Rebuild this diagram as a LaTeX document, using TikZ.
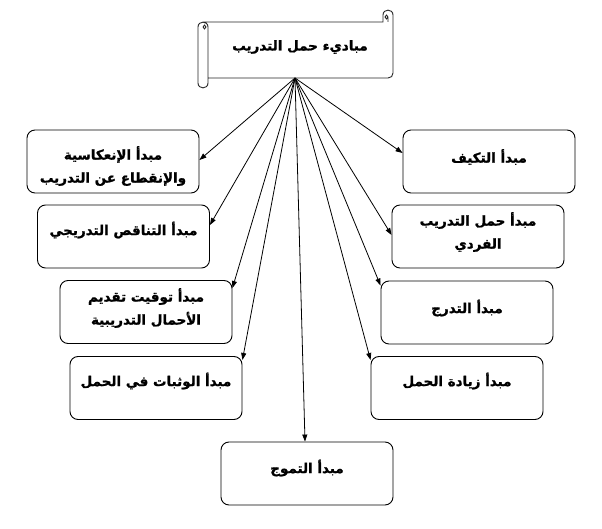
\documentclass[tikz,border=0pt]{standalone}
\usepackage{fontspec}
\newfontfamily\arabicfont[Script=Arabic, FakeBold=1.2]{DejaVu Sans Bold}
\TeXXeTstate=1
\usetikzlibrary{arrows.meta,calc}
\tikzset{
  box/.style={draw=black, rounded corners=8pt, minimum width=172pt, minimum height=63pt, line width=0.9pt, inner sep=0pt},
  txt/.style={font=\arabicfont\fontsize{13.5}{23}\selectfont, align=center, inner sep=0pt},
  arr/.style={draw=black, line width=0.8pt, -{Triangle[length=7pt,width=5pt]}},
  scrollline/.style={draw=black!85, line width=0.9pt}
}
\begin{document}
\begin{tikzpicture}[x=1pt,y=-1pt]
\useasboundingbox (0,0) rectangle (602,529);
% scroll
\draw[scrollline, fill=white] (203,22) -- (383,22) -- (383,15) .. controls (383,8.5) and (393,8.5) .. (393,15)
  -- (393,73) .. controls (393,76) and (391,78) .. (388,78) -- (208,78) -- (208,83)
  .. controls (208,89.5) and (198,89.5) .. (198,83) -- (198,27) .. controls (198,20.5) and (208,20.5) .. (208,27) -- (208,78);
\draw[scrollline] (388,22) -- (388,17) .. controls (388,14.5) and (385,14.5) .. (385,17) .. controls (385,19.5) and (388,19.5) .. (388,17);
\draw[scrollline] (203,27) .. controls (203,24.5) and (206,24.5) .. (206,27) .. controls (206,29.5) and (203,29.5) .. (203,27);
\node[txt] (title) at (300,47) {\beginR مباديء حمل التدريب\endR};
\coordinate (src) at (295,78);
% boxes
\node[box] (b1) at (113,161.5) {};
\node[box] (b2) at (489,161.5) {};
\node[box] (b3) at (123.5,236.5) {};
\node[box] (b4) at (478,236.5) {};
\node[box] (b5) at (146,312) {};
\node[box] (b6) at (467,312.5) {};
\node[box] (b7) at (156,388) {};
\node[box] (b8) at (457,388) {};
\node[box] (b9) at (307,473.5) {};
% texts
\node[txt] (t1) at (113,166) {\beginR مبدأ الإنعكاسية\endR\\\beginR والإنقطاع عن التدريب\endR};
\node[txt] (t2) at (489,157) {\beginR مبدأ التكيف\endR};
\node[txt] (t3) at (123.5,230) {\beginR مبدأ التناقص التدريجي\endR};
\node[txt] (t4) at (478,232) {\beginR مبدأ حمل التدريب\endR\\\beginR الفردي\endR};
\node[txt] (t5) at (146,308) {\beginR مبدأ توقيت تقديم\endR\\\beginR الأحمال التدريبية\endR};
\node[txt] (t6) at (467,308) {\beginR مبدأ التدرج\endR};
\node[txt] (t7) at (156,381) {\beginR مبدأ الوثبات في الحمل\endR};
\node[txt] (t8) at (457,381) {\beginR مبدأ زيادة الحمل\endR};
\node[txt] (t9) at (307,468) {\beginR مبدأ التموج\endR};
% arrows
\draw[arr] (src) -- ([yshift=1.5pt]b1.east);
\draw[arr] (src) -- ([yshift=8.5pt]b2.west);
\draw[arr] (src) -- ([yshift=11.5pt]b3.east);
\draw[arr] (src) -- ([yshift=1.5pt]b4.west);
\draw[arr] (src) -- ([yshift=24pt]b5.east);
\draw[arr] (src) -- ([yshift=27pt]b6.west);
\draw[arr] (src) -- ([yshift=28pt]b7.east);
\draw[arr] (src) -- ([yshift=28pt]b8.west);
\draw[arr] (src) -- ([xshift=-2pt]b9.north);
\end{tikzpicture}
\end{document}
